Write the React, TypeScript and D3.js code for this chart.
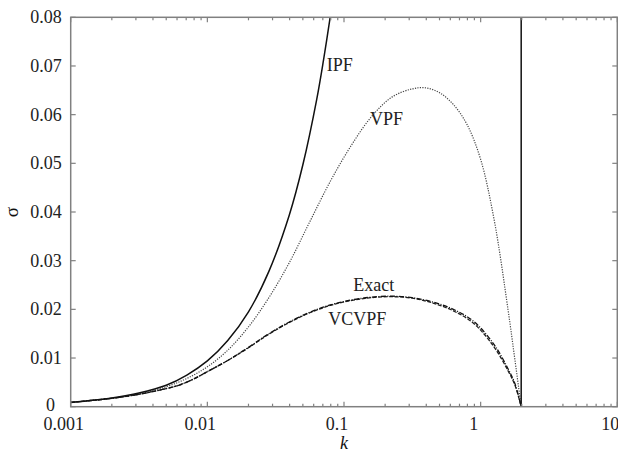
import React from "react";
import * as d3 from "d3";

// ---- data ----
const kIPF = [0.001, 0.002, 0.00316, 0.005, 0.00708, 0.01, 0.0141, 0.02, 0.0282, 0.0398, 0.0501, 0.0631, 0.0708, 0.08];
const sIPF = [0.00088, 0.0018, 0.0028, 0.0044, 0.0065, 0.0094, 0.0136, 0.0195, 0.0278, 0.0394, 0.0498, 0.0631, 0.0712, 0.0808];

const kVPF = [0.001, 0.002, 0.00316, 0.005, 0.00708, 0.01, 0.0141, 0.02, 0.0282, 0.0398, 0.0562, 0.0794, 0.112, 0.158, 0.224, 0.316, 0.398, 0.501, 0.631, 0.794, 1.0, 1.259, 1.585, 1.778, 1.98];
const sVPF = [0.00088, 0.0017, 0.0026, 0.0041, 0.0058, 0.0082, 0.0116, 0.0164, 0.0224, 0.0296, 0.0380, 0.0463, 0.0535, 0.0595, 0.0636, 0.0653, 0.0655, 0.0645, 0.0621, 0.0580, 0.0508, 0.0382, 0.0200, 0.0098, 0];

const kExact = [0.001, 0.00158, 0.00251, 0.00398, 0.00631, 0.00794, 0.01, 0.0141, 0.02, 0.0282, 0.0398, 0.0562, 0.0794, 0.112, 0.158, 0.224, 0.316, 0.447, 0.631, 0.891, 1.259, 1.585, 1.778, 1.98];
const sExact = [0.00088, 0.00142, 0.0021, 0.0031, 0.0045, 0.0057, 0.0072, 0.0095, 0.0122, 0.0150, 0.0174, 0.0194, 0.0209, 0.0219, 0.0225, 0.0227, 0.0224, 0.0215, 0.0200, 0.0175, 0.0127, 0.0078, 0.0048, 0];

const kVCVPF = [0.001, 0.00158, 0.00251, 0.00398, 0.00631, 0.00794, 0.01, 0.0141, 0.02, 0.0282, 0.0398, 0.0562, 0.0794, 0.112, 0.158, 0.224, 0.316, 0.447, 0.631, 0.891, 1.259, 1.585, 1.778, 1.98];
const sVCVPF = [0.00088, 0.00142, 0.0021, 0.0031, 0.0045, 0.0057, 0.0072, 0.0095, 0.0121, 0.0149, 0.0173, 0.0193, 0.0208, 0.0218, 0.0224, 0.0226, 0.0223, 0.0213, 0.0197, 0.0171, 0.0122, 0.0074, 0.0045, 0];

const cutoffK = [1.98, 1.98];
const cutoffS = [0, 0.08];

const xTickValues = [0.001, 0.01, 0.1, 1, 10];
const xTickLabels = ["0.001", "0.01", "0.1", "1", "10"];
const yTickValues = [0, 0.01, 0.02, 0.03, 0.04, 0.05, 0.06, 0.07, 0.08];
const yTickLabels = ["0", "0.01", "0.02", "0.03", "0.04", "0.05", "0.06", "0.07", "0.08"];

const curveLabels = ["IPF", "VPF", "Exact", "VCVPF"];
const labelK = [0.093, 0.205, 0.165, 0.125];
const labelS = [0.0689, 0.0579, 0.0238, 0.0168];

const W = 618, H = 452;
const L = 70.7, R = 617.3, T = 17.3, B = 406.7;
const FONT = "'Liberation Serif', 'Times New Roman', 'DejaVu Serif', serif";
const AXIS = "#808080";
const TXT = { fontFamily: FONT } as React.CSSProperties;

export default function App() {
  const x = d3.scaleLog().domain([0.001, 10]).range([L, R]);
  const y = d3.scaleLinear().domain([0, 0.08]).range([B, T]);
  const line = (ks: number[], ss: number[]) =>
    d3.line<number>().x((_, i) => x(ks[i])).y((_, i) => Math.min(B, y(ss[i]))).curve(d3.curveCatmullRom.alpha(0.5))(ks) || "";
  const straight = (ks: number[], ss: number[]) =>
    d3.line<number>().x((_, i) => x(ks[i])).y((_, i) => y(ss[i]))(ks) || "";

  const allX = x.ticks();
  const minorX = allX.filter((v) => !xTickValues.some((m) => Math.abs(m - v) / m < 1e-6));

  return (
    <svg width={W} height={H} style={{ position: "absolute", left: 0, top: 0, background: "#fff" }}>
      <defs>
        <clipPath id="plotClip">
          <rect x={L} y={T} width={R - L} height={B - T} />
        </clipPath>
      </defs>
      <rect x={0} y={0} width={W} height={H} fill="#fff" />
      {/* curves */}
      <g clipPath="url(#plotClip)">
        <path d={line(kVPF, sVPF)} fill="none" stroke="#444" strokeWidth={1.2} strokeDasharray="1.2,1.3" />
        <path d={line(kVCVPF, sVCVPF)} fill="none" stroke="#222" strokeWidth={1.3} strokeDasharray="4,1.5" />
        <path d={line(kExact, sExact)} fill="none" stroke="#111" strokeWidth={1.3} strokeDasharray="5,1.5,1,1.5" />
        <path d={line(kIPF, sIPF)} fill="none" stroke="#111" strokeWidth={1.5} />
        <path d={straight(cutoffK, cutoffS)} fill="none" stroke="#111" strokeWidth={1.5} />
      </g>

      {/* frame */}
      <rect x={L} y={T} width={R - L} height={B - T} fill="none" stroke={AXIS} strokeWidth={1.5} />
      {xTickValues.map((v) => (
        <g key={"xm" + v}>
          <line x1={x(v)} x2={x(v)} y1={B} y2={B - 5} stroke={AXIS} strokeWidth={1.2} />
          <line x1={x(v)} x2={x(v)} y1={T} y2={T + 5} stroke={AXIS} strokeWidth={1.2} />
        </g>
      ))}
      {minorX.map((v) => (
        <g key={"xn" + v}>
          <line x1={x(v)} x2={x(v)} y1={B} y2={B - 3} stroke={AXIS} strokeWidth={1.2} />
          <line x1={x(v)} x2={x(v)} y1={T} y2={T + 3} stroke={AXIS} strokeWidth={1.2} />
        </g>
      ))}
      {yTickValues.map((v) => (
        <g key={"y" + v}>
          <line x1={L} x2={L + 5} y1={y(v)} y2={y(v)} stroke={AXIS} strokeWidth={1.2} />
          <line x1={R} x2={R - 5} y1={y(v)} y2={y(v)} stroke={AXIS} strokeWidth={1.2} />
        </g>
      ))}
      {/* tick labels */}
      {xTickValues.map((v, i) => (
        <text key={"xl" + v} x={x(v) - 7} y={430} textAnchor="middle" fontSize={18} fill="#222" style={TXT}>
          {xTickLabels[i]}
        </text>
      ))}
      {yTickValues.map((v, i) => (
        <text key={"yl" + v} x={v === 0 ? 55 : 61.7} y={y(v) + (v === 0 ? 4 : 6)} textAnchor="end" fontSize={18} fill="#222" style={TXT}>
          {yTickLabels[i]}
        </text>
      ))}
      {/* axis titles */}
      <text x={(L + R) / 2} y={449} textAnchor="middle" fontSize={18} fontStyle="italic" fill="#111" style={TXT}>k</text>
      <text transform={`translate(18, ${(T + B) / 2}) rotate(-90)`} textAnchor="middle" fontSize={19} fill="#111" style={TXT}>σ</text>
      {/* curve labels */}
      {curveLabels.map((t, i) => (
        <text key={t} x={x(labelK[i])} y={y(labelS[i])} textAnchor="middle" fontSize={18} fill="#222" style={TXT}>
          {t}
        </text>
      ))}
    </svg>
  );
}
